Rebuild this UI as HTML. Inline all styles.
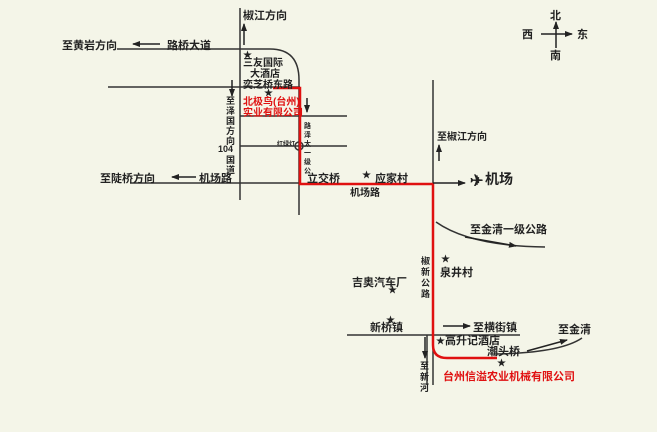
<!DOCTYPE html>
<html><head><meta charset="utf-8"><style>
html,body{margin:0;padding:0;background:#f4f5e8}
svg{display:block}
text{font-family:"Liberation Sans","Noto Sans CJK SC",sans-serif;font-weight:bold;fill:#222}
</style></head><body>
<svg width="657" height="432" viewBox="0 0 657 432" xmlns="http://www.w3.org/2000/svg">
<defs><marker id="a" markerWidth="8" markerHeight="8" refX="7" refY="4" orient="auto" markerUnits="userSpaceOnUse"><path d="M0,1 L8,4 L0,7 z" fill="#222"/></marker></defs>
<rect width="657" height="432" fill="#f4f5e8"/>
<g stroke="#333" stroke-width="1.5" fill="none">
<line x1="240" y1="8" x2="240" y2="200"/>
<path d="M117,49 H270 Q299,49 299,80 V215"/>
<line x1="108" y1="87" x2="300" y2="87"/>
<line x1="240" y1="116" x2="347" y2="116"/>
<line x1="240" y1="146" x2="347" y2="146"/>
<line x1="130" y1="183" x2="300" y2="183"/>
<line x1="433" y1="80" x2="433" y2="183"/>
<line x1="347" y1="335" x2="520" y2="335"/>
<line x1="427" y1="335" x2="427" y2="385"/>
<line x1="433" y1="335" x2="433" y2="385"/>
<path d="M436,222 Q470,246 545,247"/>
<path d="M495,354 Q560,353 582,338"/>
</g>
<circle cx="299" cy="146" r="4" fill="none" stroke="#333" stroke-width="1.5"/>
<path d="M273,88 H300 V184 H433 V345 Q433,358 447,358 H497" fill="none" stroke="#e01010" stroke-width="2.5"/>
<g stroke="#222" stroke-width="1.5" marker-end="url(#a)">
<line x1="160" y1="44" x2="133" y2="44"/>
<line x1="196" y1="177" x2="172" y2="177"/>
<line x1="244" y1="45" x2="244" y2="24"/>
<line x1="232" y1="80" x2="232" y2="96"/>
<line x1="307" y1="98" x2="307" y2="112"/>
<line x1="433" y1="183" x2="465" y2="183"/>
<line x1="439" y1="161" x2="439" y2="145"/>
<line x1="541" y1="34" x2="572" y2="34"/>
<line x1="556" y1="48" x2="556" y2="22"/>
<line x1="465" y1="237" x2="516" y2="246"/>
<line x1="443" y1="326" x2="470" y2="326"/>
<line x1="527" y1="351" x2="567" y2="340"/>
<line x1="425" y1="337" x2="425" y2="358"/>
</g>
<g font-size="11">
<text x="62" y="49">至黄岩方向</text>
<text x="167" y="49">路桥大道</text>
<text x="100" y="182">至陡桥方向</text>
<text x="199" y="182">机场路</text>
<text x="243" y="19">椒江方向</text>
<text x="243" y="66" font-size="10">三友国际</text>
<text x="250" y="77" font-size="10">大酒店</text>
<text x="243" y="88" font-size="10">奕芝桥东路</text>
<text x="243" y="105" font-size="10" style="fill:#e01010">北极鸟(台州)</text>
<text x="243" y="116" font-size="10" style="fill:#e01010">实业有限公司</text>
<text x="218" y="152" font-size="9">104</text>
<text x="307" y="182">立交桥</text>
<text x="375" y="182">应家村</text>
<text x="350" y="196" font-size="10">机场路</text>
<text x="437" y="140" font-size="10">至椒江方向</text>
<text x="485" y="184" font-size="14">机场</text>
<text x="470" y="186" font-size="16">✈</text>
<text x="550" y="19">北</text>
<text x="522" y="38">西</text>
<text x="577" y="38">东</text>
<text x="550" y="59">南</text>
<text x="470" y="233">至金清一级公路</text>
<text x="440" y="276">泉井村</text>
<text x="352" y="286">吉奥汽车厂</text>
<text x="370" y="331">新桥镇</text>
<text x="473" y="331">至横街镇</text>
<text x="445" y="344">高升记酒店</text>
<text x="487" y="355">潮头桥</text>
<text x="558" y="333">至金清</text>
<text x="443" y="380" style="fill:#e01010">台州信溢农业机械有限公司</text>
<text x="277" y="146" font-size="6">红绿灯</text>
</g>
<g font-size="9">
<text x="226" y="104">至</text><text x="226" y="114">泽</text><text x="226" y="124">国</text><text x="226" y="134">方</text><text x="226" y="144">向</text>
<text x="226" y="163">国</text><text x="226" y="173">道</text>
<text x="304" y="128" font-size="7">路</text><text x="304" y="137" font-size="7">泽</text><text x="304" y="146" font-size="7">太</text><text x="304" y="155" font-size="7">一</text><text x="304" y="164" font-size="7">级</text><text x="304" y="173" font-size="7">公</text>
<text x="421" y="264">椒</text><text x="421" y="275">新</text><text x="421" y="286">公</text><text x="421" y="297">路</text>
<text x="420" y="369">至</text><text x="420" y="380">新</text><text x="420" y="391">河</text>
</g>
<g font-size="9">
<text x="243" y="58">★</text><text x="264" y="96">★</text><text x="362" y="178">★</text>
<text x="441" y="262">★</text><text x="388" y="293">★</text><text x="386" y="323">★</text>
<text x="436" y="344">★</text><text x="497" y="366">★</text>
</g>
</svg>
</body></html>
